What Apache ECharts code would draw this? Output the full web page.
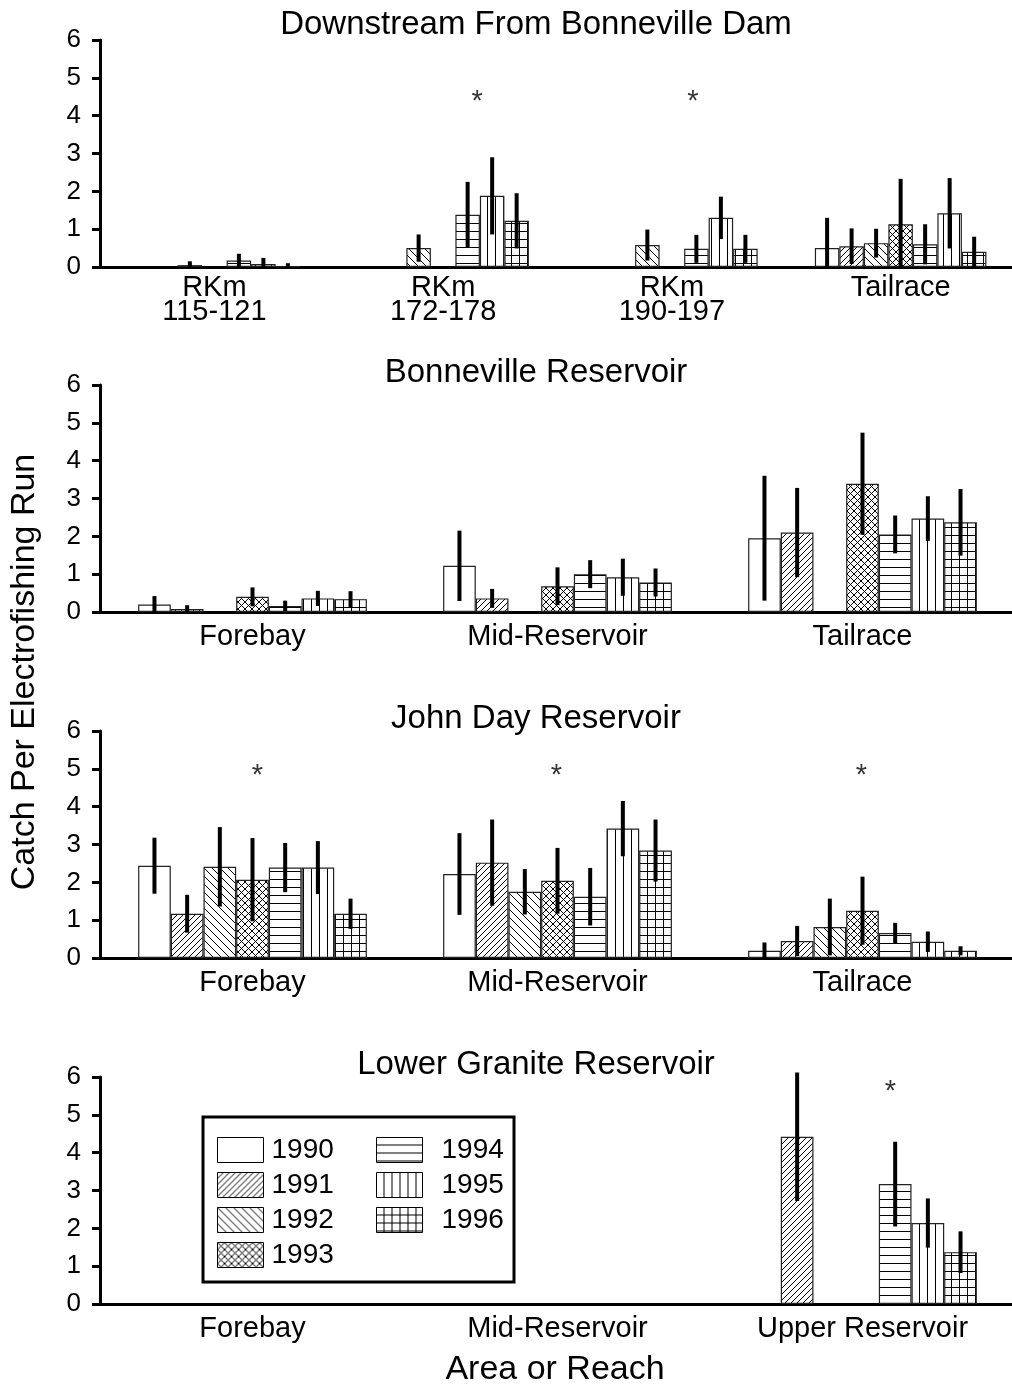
<!DOCTYPE html>
<html>
<head>
<meta charset="utf-8">
<script src="https://cdn.jsdelivr.net/npm/echarts@6/dist/echarts.min.js"></script>
<style>
  html, body { margin: 0; padding: 0; background: #fff; }
  #chart { width: 1012px; height: 1389px; }
</style>
</head>
<body>
<div id="chart"></div>
<script>
const years = ['1990', '1991', '1992', '1993', '1994', '1995', '1996']

// Downstream From Bonneville Dam (rows = years, columns = categories)
const catsDownstream = ['RKm\n115-121', 'RKm\n172-178', 'RKm\n190-197', 'Tailrace']
const meanDownstream = [
  [null, null, null, 0.50],
  [null, null, null, 0.55],
  [0.05, 0.50, 0.58, 0.63],
  [null, null, null, 1.13],
  [0.17, 1.38, 0.48, 0.60],
  [0.08, 1.88, 1.30, 1.42],
  [0.02, 1.22, 0.48, 0.40]
]
const errDownstream = [
  [null, null, null, 0.80],
  [null, null, null, 0.47],
  [0.10, 0.36, 0.41, 0.38],
  [null, null, null, 1.20],
  [0.18, 0.87, 0.37, 0.53],
  [0.16, 1.02, 0.56, 0.93],
  [0.08, 0.73, 0.37, 0.40]
]
const starsDownstream = [[1, 4.54], [2, 4.54]]

// Bonneville Reservoir
const catsBonneville = ['Forebay', 'Mid-Reservoir', 'Tailrace']
const meanBonneville = [
  [0.20, 1.22, 1.95],
  [0.08, 0.36, 2.10],
  [null, null, null],
  [0.40, 0.68, 3.39],
  [0.16, 1.00, 2.05],
  [0.36, 0.92, 2.47],
  [0.34, 0.78, 2.37]
]
const errBonneville = [
  [0.22, 0.93, 1.65],
  [0.10, 0.25, 1.18],
  [null, null, null],
  [0.25, 0.50, 1.35],
  [0.14, 0.37, 0.50],
  [0.20, 0.49, 0.59],
  [0.21, 0.37, 0.88]
]
const starsBonneville = []

// John Day Reservoir
const catsJohnDay = ['Forebay', 'Mid-Reservoir', 'Tailrace']
const meanJohnDay = [
  [2.44, 2.22, 0.19],
  [1.17, 2.52, 0.45],
  [2.41, 1.75, 0.82],
  [2.07, 2.04, 1.25],
  [2.39, 1.62, 0.66],
  [2.39, 3.42, 0.43],
  [1.17, 2.84, 0.19]
]
const errJohnDay = [
  [0.74, 1.08, 0.22],
  [0.50, 1.14, 0.40],
  [1.05, 0.60, 0.75],
  [1.10, 0.87, 0.90],
  [0.65, 0.76, 0.27],
  [0.70, 0.73, 0.27],
  [0.40, 0.82, 0.12]
]
const starsJohnDay = [[0, 5.0], [1, 5.0], [2, 5.0]]

// Lower Granite Reservoir
const catsGranite = ['Forebay', 'Mid-Reservoir', 'Upper Reservoir']
const meanGranite = [
  [null, null, null],
  [null, null, 4.42],
  [null, null, null],
  [null, null, null],
  [null, null, 3.17],
  [null, null, 2.14],
  [null, null, 1.37]
]
const errGranite = [
  [null, null, null],
  [null, null, 1.70],
  [null, null, null],
  [null, null, null],
  [null, null, 1.12],
  [null, null, 0.65],
  [null, null, 0.55]
]
const starsGranite = [[2, 5.8]]

const yTicks = ['0', '1', '2', '3', '4', '5', '6']

const font = '"Liberation Sans", Arial, Helvetica, sans-serif'

// 面板布局
const panels = [
  { title: 'Downstream From Bonneville Dam', cats: catsDownstream, mean: meanDownstream, err: errDownstream, stars: starsDownstream, starDx: [34, 21], top: 40, titleTop: 8, labelMargin: 9 },
  { title: 'Bonneville Reservoir', cats: catsBonneville, mean: meanBonneville, err: errBonneville, stars: starsBonneville, starDx: [], top: 385, titleTop: 356, labelMargin: 13 },
  { title: 'John Day Reservoir', cats: catsJohnDay, mean: meanJohnDay, err: errJohnDay, stars: starsJohnDay, starDx: [5, -1, -1], top: 731, titleTop: 702, labelMargin: 13 },
  { title: 'Lower Granite Reservoir', cats: catsGranite, mean: meanGranite, err: errGranite, stars: starsGranite, starDx: [28], top: 1077, titleTop: 1048, labelMargin: 13 }
]

// 填充图案
const makePattern = (kind, s) => {
  const c = document.createElement('canvas')
  c.width = s
  c.height = s
  const g = c.getContext('2d')
  g.fillStyle = '#fff'
  g.fillRect(0, 0, s, s)
  g.strokeStyle = '#000'
  g.lineWidth = 1
  const line = (x1, y1, x2, y2) => { g.beginPath(); g.moveTo(x1, y1); g.lineTo(x2, y2); g.stroke() }
  if (kind === 'fwd' || kind === 'cross') { line(-1, s + 1, s + 1, -1); line(-1, 1, 1, -1); line(s - 1, s + 1, s + 1, s - 1) }
  if (kind === 'back' || kind === 'cross') { line(-1, -1, s + 1, s + 1); line(-1, s - 1, 1, s + 1); line(s - 1, -1, s + 1, 1) }
  if (kind === 'horiz' || kind === 'grid') line(0, s - 0.5, s, s - 0.5)
  if (kind === 'vert' || kind === 'grid') line(s - 0.5, 0, s - 0.5, s)
  return { image: c, repeat: 'repeat' }
}

const fills = [
  '#fff',
  makePattern('fwd', 6),
  makePattern('back', 8),
  makePattern('cross', 7),
  makePattern('horiz', 8),
  makePattern('vert', 8),
  makePattern('grid', 8)
]

const grids = []
const xAxes = []
const yAxes = []
const titles = []
const series = []

panels.forEach((p, gi) => {
  grids.push({ left: 100, top: p.top, width: 915, height: 227, containLabel: false, outerBoundsMode: 'none' })
  titles.push({
    text: p.title, left: 536, top: p.titleTop, textAlign: 'center', padding: 0,
    textStyle: { fontSize: 33, fontWeight: 'normal', color: '#000', fontFamily: font }
  })
  xAxes.push({
    gridIndex: gi, type: 'category', data: p.cats,
    axisLine: { lineStyle: { color: '#000', width: 3 } },
    axisTick: { alignWithLabel: true, length: 9, lineStyle: { color: '#000', width: 3 } },
    axisLabel: { interval: 0, color: '#000', fontSize: 29, lineHeight: 24, margin: p.labelMargin, fontFamily: font },
    splitLine: { show: false }
  })
  yAxes.push({
    gridIndex: gi, type: 'value', min: 0, max: 6, interval: 1,
    axisLine: { show: true, lineStyle: { color: '#000', width: 3 } },
    axisTick: { show: true, length: 8, lineStyle: { color: '#000', width: 3 } },
    axisLabel: { color: '#000', fontSize: 26, margin: 19, fontFamily: font, formatter: v => yTicks[v] },
    splitLine: { show: false }
  })

  years.forEach((y, yi) => {
    series.push({
      name: y, type: 'bar', xAxisIndex: gi, yAxisIndex: gi,
      barGap: '0%', barCategoryGap: '25%',
      data: p.mean[yi],
      itemStyle: { color: fills[yi], borderColor: '#222', borderWidth: 1.2 },
      emphasis: { disabled: true },
      silent: true
    })
  })

  // 误差线
  const errData = []
  p.mean.forEach((row, yi) => row.forEach((m, ci) => {
    if (m == null) return
    const e = p.err[yi][ci]
    errData.push([ci, yi, Math.max(0, m - e), m + e])
  }))
  series.push({
    type: 'custom', xAxisIndex: gi, yAxisIndex: gi, z: 5, silent: true,
    encode: { x: 0, y: [2, 3] },
    renderItem: (params, api) => {
      const ci = api.value(0)
      const yi = api.value(1)
      const lo = api.coord([ci, api.value(2)])
      const hi = api.coord([ci, api.value(3)])
      const band = api.size([1, 0])[0]
      const bw = band * 0.75 / years.length
      const x = lo[0] + (yi - (years.length - 1) / 2) * bw
      return { type: 'line', shape: { x1: x, y1: lo[1], x2: x, y2: hi[1] }, style: { stroke: '#000', lineWidth: 4 } }
    },
    data: errData
  })

  // 星号标记
  if (p.stars.length) {
    series.push({
      type: 'scatter', xAxisIndex: gi, yAxisIndex: gi, silent: true,
      symbolSize: 1, itemStyle: { color: 'rgba(0,0,0,0)' },
      data: p.stars.map((s, i) => ({
        value: s,
        label: { offset: [p.starDx[i], 7] }
      })),
      label: { show: true, position: 'inside', formatter: '*', color: '#000', fontSize: 29, fontFamily: font }
    })
  }
})

const chart = echarts.init(document.getElementById('chart'), null, { renderer: 'canvas' })

const option = {
  backgroundColor: '#fff',
  animation: false,
  title: titles,
  grid: grids,
  xAxis: xAxes,
  yAxis: yAxes,
  legend: [
    {
      data: years.slice(0, 4), left: 217, top: 1136, orient: 'vertical', padding: 0,
      itemWidth: 46, itemHeight: 25, itemGap: 7, icon: 'rect', selectedMode: false,
      itemStyle: { borderColor: '#000', borderWidth: 1 },
      textStyle: { fontSize: 28, color: '#000', fontFamily: font, padding: [0, 0, 0, 3] }
    },
    {
      data: years.slice(4), left: 376, top: 1136, orient: 'vertical', padding: 0,
      itemWidth: 46, itemHeight: 25, itemGap: 7, icon: 'rect', selectedMode: false,
      itemStyle: { borderColor: '#000', borderWidth: 1 },
      textStyle: { fontSize: 28, color: '#000', fontFamily: font, padding: [0, 0, 0, 14] }
    }
  ],
  graphic: [
    {
      type: 'rect', z: 1, silent: true,
      shape: { x: 203, y: 1117, width: 311, height: 165 },
      style: { fill: 'none', stroke: '#000', lineWidth: 3 }
    },
    {
      type: 'text', x: 25, y: 672, rotation: Math.PI / 2, silent: true,
      style: { text: 'Catch Per Electrofishing Run', fill: '#000', font: '34px ' + font, textAlign: 'center', textVerticalAlign: 'middle' }
    },
    {
      type: 'text', x: 555, y: 1370, silent: true,
      style: { text: 'Area or Reach', fill: '#000', font: '34px ' + font, textAlign: 'center', textVerticalAlign: 'middle' }
    }
  ],
  series: series
}

chart.setOption(option)
</script>
</body>
</html>
